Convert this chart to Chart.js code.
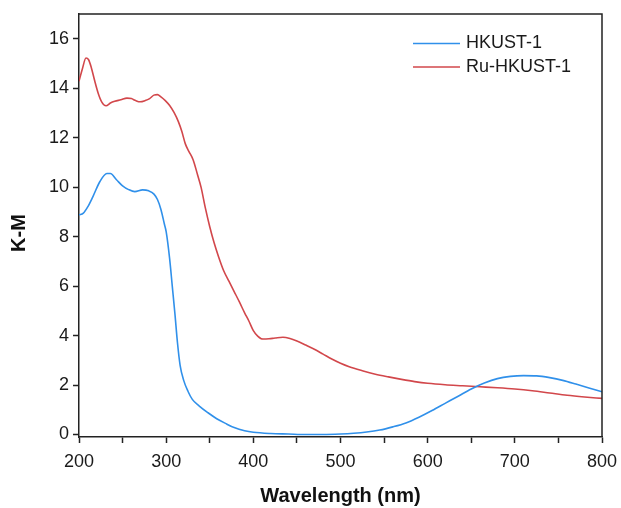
<!DOCTYPE html>
<html>
<head>
<meta charset="utf-8">
<script src="https://cdn.jsdelivr.net/npm/chart.js@4.4.1/dist/chart.umd.min.js"></script>
<style>
  html, body { margin: 0; padding: 0; background: #fff; }
</style>
</head>
<body>
<canvas id="kmChart" width="621" height="508"></canvas>
<script>
// K-M spectra, wavelength in nm
const hkustX = [200, 205, 210, 216, 224, 232, 236, 243, 250, 257, 264, 273, 280, 286, 290, 294, 298, 300, 304, 307, 310, 313, 316, 320, 325, 330, 338, 348, 358, 368, 378, 390, 400, 420, 440, 460, 480, 500, 515, 530, 545, 560, 575, 590, 605, 620, 635, 650, 665, 680, 695, 710, 725, 740, 755, 770, 785, 800];
const hkustY = [8.88, 8.95, 9.2, 9.62, 10.23, 10.55, 10.55, 10.3, 10.05, 9.9, 9.82, 9.89, 9.85, 9.72, 9.5, 9.1, 8.5, 8.2, 7.1, 6.0, 4.9, 3.7, 2.8, 2.2, 1.75, 1.42, 1.15, 0.88, 0.64, 0.45, 0.28, 0.15, 0.09, 0.04, 0.02, 0.0, 0.0, 0.02, 0.05, 0.1, 0.18, 0.31, 0.47, 0.7, 0.97, 1.26, 1.55, 1.84, 2.08, 2.26, 2.35, 2.38, 2.37, 2.3, 2.19, 2.04, 1.88, 1.73];

const ruX = [200, 204, 208, 211, 214, 218, 222, 226, 231, 236, 241, 248, 255, 260, 265, 270, 276, 281, 286, 290, 294, 299, 304, 309, 314, 318, 322, 326, 331, 336, 340, 345, 350, 355, 360, 366, 372, 378, 384, 390, 395, 400, 405, 411, 418, 425, 434, 442, 450, 460, 470, 480, 490, 500, 510, 525, 540, 555, 570, 585, 600, 620, 640, 660, 680, 700, 720, 740, 760, 780, 800];
const ruY = [14.28, 14.8, 15.22, 15.15, 14.85, 14.3, 13.8, 13.45, 13.29, 13.4, 13.47, 13.53, 13.6, 13.58, 13.5, 13.45, 13.5, 13.58, 13.72, 13.74, 13.65, 13.5, 13.3, 13.02, 12.65, 12.25, 11.75, 11.45, 11.1, 10.5, 10.0, 9.15, 8.4, 7.75, 7.2, 6.62, 6.2, 5.78, 5.36, 4.92, 4.58, 4.2, 3.98, 3.86, 3.87, 3.9, 3.93, 3.88, 3.78, 3.62, 3.45, 3.25, 3.05, 2.88, 2.74, 2.58, 2.44, 2.33, 2.23, 2.14, 2.07, 2.01, 1.97, 1.93, 1.89, 1.84, 1.77, 1.68, 1.59, 1.52, 1.46];

const seriesNames = ['HKUST-1', 'Ru-HKUST-1'];
const seriesColors = ['#3090ea', '#d2474b'];

const xTicks = [200, 250, 300, 350, 400, 450, 500, 550, 600, 650, 700, 750, 800];
const yTicks = [0, 2, 4, 6, 8, 10, 12, 14, 16];

const toPoints = (xs, ys) => xs.map((x, i) => ({ x: x, y: ys[i] }));

Chart.defaults.font.family = '"Liberation Sans", Arial, sans-serif';
Chart.defaults.color = '#1a1a1a';

const axisColor = '#222';

// top/right edges of the box
const frame = {
    id: 'frame',
    afterDatasetsDraw(chart) {
        const { ctx, chartArea: a } = chart;
        ctx.save();
        ctx.strokeStyle = axisColor;
        ctx.lineWidth = 1.5;
        ctx.beginPath();
        ctx.moveTo(a.left, a.top);
        ctx.lineTo(a.right, a.top);
        ctx.lineTo(a.right, a.bottom);
        ctx.stroke();
        ctx.restore();
    }
};

// line legend in the upper right corner
const lineLegend = {
    id: 'lineLegend',
    afterDraw(chart) {
        const { ctx, chartArea: a } = chart;
        ctx.save();
        ctx.font = '18px "Liberation Sans", Arial, sans-serif';
        ctx.textBaseline = 'middle';
        chart.data.datasets.forEach((ds, i) => {
            const y = a.top + 29.5 + i * 23.5;
            ctx.strokeStyle = ds.borderColor;
            ctx.lineWidth = 1.5;
            ctx.beginPath();
            ctx.moveTo(a.right - 189, y);
            ctx.lineTo(a.right - 142, y);
            ctx.stroke();
            ctx.fillStyle = '#1a1a1a';
            ctx.fillText(ds.label, a.right - 136, y);
        });
        ctx.restore();
    }
};

// rotated y axis title
const yTitle = {
    id: 'yTitle',
    afterDraw(chart) {
        const { ctx } = chart;
        ctx.save();
        ctx.translate(19, 233);
        ctx.rotate(-Math.PI / 2);
        ctx.font = 'bold 20px "Liberation Sans", Arial, sans-serif';
        ctx.textAlign = 'center';
        ctx.textBaseline = 'middle';
        ctx.fillStyle = '#111';
        ctx.fillText('K-M', 0, 0);
        ctx.restore();
    }
};

new Chart(document.getElementById('kmChart'), {
    type: 'line',
    data: {
        datasets: [{
            label: seriesNames[0],
            data: toPoints(hkustX, hkustY),
            borderColor: seriesColors[0],
            borderWidth: 1.6,
            pointRadius: 0,
            cubicInterpolationMode: 'monotone'
        }, {
            label: seriesNames[1],
            data: toPoints(ruX, ruY),
            borderColor: seriesColors[1],
            borderWidth: 1.6,
            pointRadius: 0,
            cubicInterpolationMode: 'monotone'
        }]
    },
    options: {
        responsive: false,
        animation: false,
        layout: { padding: { top: 14, right: 19, left: 0, bottom: 0 } },
        plugins: {
            legend: { display: false },
            tooltip: { enabled: false }
        },
        scales: {
            x: {
                type: 'linear',
                min: 200,
                max: 800,
                afterBuildTicks: (s) => { s.ticks = xTicks.map(v => ({ value: v })); },
                afterFit: (s) => {
                    s.height = 71;
                    s.paddingLeft = 0;
                    s.paddingRight = 0;
                },
                ticks: {
                    autoSkip: false,
                    maxRotation: 0,
                    padding: 8,
                    font: { size: 18 },
                    callback: (v) => (v % 100 === 0 ? String(v) : '')
                },
                grid: {
                    drawOnChartArea: false,
                    drawTicks: true,
                    tickLength: 6,
                    tickWidth: 1.5,
                    tickColor: axisColor
                },
                border: { display: true, color: axisColor, width: 1.5 },
                title: {
                    display: true,
                    text: 'Wavelength (nm)',
                    color: '#111',
                    font: { size: 20, weight: 'bold' },
                    padding: { top: 0, bottom: 0 }
                }
            },
            y: {
                type: 'linear',
                min: -0.1,
                max: 17,
                afterBuildTicks: (s) => { s.ticks = yTicks.map(v => ({ value: v })); },
                afterFit: (s) => {
                    s.width = 79;
                    s.paddingTop = 0;
                    s.paddingBottom = 0;
                },
                ticks: {
                    padding: 4,
                    font: { size: 18 }
                },
                grid: {
                    drawOnChartArea: false,
                    drawTicks: true,
                    tickLength: 6,
                    tickWidth: 1.5,
                    tickColor: axisColor
                },
                border: { display: true, color: axisColor, width: 1.5 }
            }
        }
    },
    plugins: [frame, lineLegend, yTitle]
});
</script>
</body>
</html>
